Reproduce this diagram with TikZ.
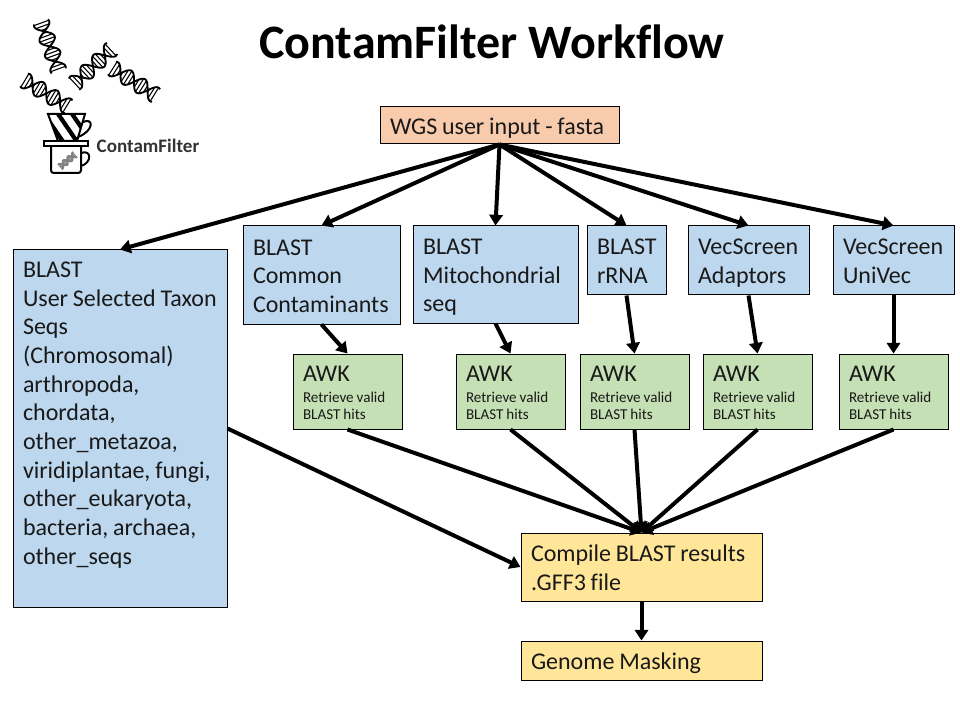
\documentclass[tikz,border=0pt]{standalone}
\usepackage{fontspec}
\setmainfont{Carlito}[Ligatures=NoCommon]
\usetikzlibrary{arrows.meta}

\tikzset{
    box/.style={draw=black, line width=0.75pt, inner xsep=7.5pt, inner ysep=0pt, align=left, text=black!90,
        font=\fontsize{18}{21.5}\selectfont,
        execute at begin node={\hyphenpenalty=10000 \spaceskip=0.2em\relax\rule{0pt}{0.91\baselineskip}},
        execute at end node={\strut}},
    inputbox/.style={box, fill={rgb,255:red,248;green,203;blue,173}},
    bluebox/.style={box, fill={rgb,255:red,189;green,215;blue,238}},
    greenbox/.style={box, fill={rgb,255:red,197;green,224;blue,180}, minimum width=81.75pt, text width=66.75pt, minimum height=56.25pt,
        font=\fontsize{11.3}{12.75}\selectfont},
    yellowbox/.style={box, fill={rgb,255:red,255;green,230;blue,153}, minimum width=180.75pt, text width=165.75pt},
    flow/.style={line width=3pt, -{Triangle[width=10pt,length=8pt]}},
    pics/dnahelix/.style={code={
        \draw[#1, line width=1.4pt] plot[domain=0:52,samples=70,smooth] (\x,{8*cos((\x-18)*11.25)});
        \draw[#1, line width=1.4pt] plot[domain=0:52,samples=70,smooth] (\x,{-8*cos((\x-18)*11.25)});
        \foreach \r in {1,4.5,...,52}
            \draw[#1, line width=0.8pt] (\r,{8*cos((\r-18)*11.25)}) -- (\r,{-8*cos((\r-18)*11.25)});
    }},
    pics/dnahelix/.default=black
}
\newcommand{\awktext}{\rule{0pt}{17.5pt}{\fontsize{18}{12.75}\selectfont AWK}\\[3.5pt]Retrieve valid\\BLAST hits}

\begin{document}
\begin{tikzpicture}[x=0.75pt, y=-0.75pt]
    \useasboundingbox (0,0) rectangle (960,720);

    \node (title) at (492,42) [font=\fontsize{36}{40}\selectfont\bfseries] {ContamFilter Workflow};

    % logo
    \pic[rotate=-70] at (41,22) {dnahelix};
    \pic[rotate=43] at (74,84) {dnahelix};
    \pic[rotate=-32] at (112,68) {dnahelix};
    \pic[rotate=-31] at (24,80) {dnahelix};
    \begin{scope}
        \clip (48,114) -- (85,114) -- (77,141) -- (58,141) -- cycle;
        \foreach \s in {40,54,68,82}
            \draw[line width=3.2pt] (\s,108) -- (\s+26,146);
    \end{scope}
    \draw[line width=1.5pt] (48,114) -- (85,114) -- (77,141) -- (58,141) -- cycle;
    \draw[line width=1.5pt] (83,122) .. controls (94,117) and (94,131) .. (78,137);
    \draw[line width=1.5pt, fill=white] (44,141.5) rectangle (88,146);
    \draw[line width=1.5pt, rounded corners=2pt] (51,147) -- (51,173) -- (81,173) -- (81,147);
    \draw[line width=1.5pt] (81,153) .. controls (92,149) and (92,163) .. (81,166);
    \pic[rotate=40, scale=0.38] at (60,167) {dnahelix=gray};
    \node (logotext) at (148,146) [font=\fontsize{14.3}{16}\selectfont\bfseries, text=black!80] {ContamFilter};

    \node (input) at (499.5,125.5) [inputbox, minimum width=179.25pt, text width=164.25pt, minimum height=27.75pt] {\mbox{WGS user input - fasta}};

    \node (taxon) at (120,428.5) [bluebox, minimum width=160.5pt, text width=145.5pt, minimum height=267.75pt] {BLAST\\\mbox{User Selected Taxon}\\Seqs\\(Chromosomal)\\arthropoda,\\chordata,\\other\_metazoa,\\\mbox{viridiplantae, fungi,}\\other\_eukaryota,\\bacteria, archaea,\\other\_seqs\\[3pt]\mbox{}};
    \node (common) at (321.5,275) [bluebox, minimum width=117.75pt, text width=102.75pt, minimum height=73.5pt] {BLAST\\Common\\Contaminants};
    \node (mito) at (495.5,274.5) [bluebox, minimum width=123.75pt, text width=108.75pt, minimum height=72.75pt] {BLAST\\Mitochondrial\\seq};
    \node (rrna) at (626.5,260.5) [bluebox, minimum width=59.25pt, text width=44.25pt, minimum height=51.75pt] {BLAST\\rRNA};
    \node (adaptors) at (748.5,260.5) [bluebox, minimum width=90.75pt, text width=75.75pt, minimum height=51.75pt] {VecScreen\\Adaptors};
    \node (univec) at (893.5,260.5) [bluebox, minimum width=90.75pt, text width=75.75pt, minimum height=51.75pt] {VecScreen\\UniVec};

    \node (awkcommon) at (347.5,391.5) [greenbox] {\awktext};
    \node (awkmito) at (510.5,391.5) [greenbox] {\awktext};
    \node (awkrrna) at (634.5,391.5) [greenbox] {\awktext};
    \node (awkadaptors) at (757.5,391.5) [greenbox] {\awktext};
    \node (awkunivec) at (893.5,391.5) [greenbox] {\awktext};

    \node (compile) at (641.5,567) [yellowbox, minimum height=51pt] {Compile BLAST results\\.GFF3 file};
    \node (masking) at (641.5,660.5) [yellowbox, minimum height=29.25pt] {Genome Masking};

    \draw [flow] (input.south) -- (taxon.north);
    \draw [flow] (input.south) -- (common.north);
    \draw [flow] (input.south) -- (mito.north);
    \draw [flow] (input.south) -- (rrna.north);
    \draw [flow] (input.south) -- (adaptors.north);
    \draw [flow] (input.south) -- (univec.north);

    \draw [flow] (common.south) -- (awkcommon.north);
    \draw [flow] (mito.south) -- (awkmito.north);
    \draw [flow] (rrna.south) -- (awkrrna.north);
    \draw [flow] (adaptors.south) -- (awkadaptors.north);
    \draw [flow] (univec.south) -- (awkunivec.north);

    \draw [flow] (awkcommon.south) -- (compile.north);
    \draw [flow] (awkmito.south) -- (compile.north);
    \draw [flow] (awkrrna.south) -- (compile.north);
    \draw [flow] (awkadaptors.south) -- (compile.north);
    \draw [flow] (awkunivec.south) -- (compile.north);
    \draw [flow] (taxon.east) -- (compile.west);
    \draw [flow] (compile.south) -- (masking.north);
\end{tikzpicture}
\end{document}
